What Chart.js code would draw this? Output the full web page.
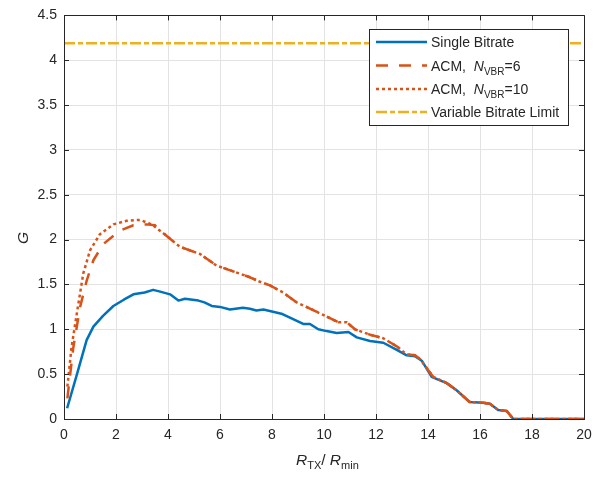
<!DOCTYPE html>
<html>
<head>
<meta charset="utf-8">
<script src="https://cdn.jsdelivr.net/npm/chart.js@4.4.1/dist/chart.umd.min.js"></script>
<style>
html,body{margin:0;padding:0;background:#fff;}
#wrap{width:616px;height:477px;position:relative;}
</style>
</head>
<body>
<div id="wrap"><canvas id="c" width="616" height="477"></canvas></div>
<script>
// ---- data ----
const singleX = [0.12,0.5,0.87,1.13,1.5,1.9,2.3,2.67,3.1,3.43,3.7,4.08,4.4,4.65,5.17,5.4,5.68,6.0,6.38,6.88,7.15,7.4,7.67,8.12,8.4,8.69,9.2,9.46,9.78,10.1,10.49,10.94,11.26,11.77,12.28,12.8,13.18,13.5,13.76,14.14,14.46,14.72,15.1,15.6,16.13,16.38,16.7,17.03,17.28,20];
const singleY = [0.12,0.5,0.88,1.03,1.15,1.26,1.33,1.39,1.41,1.44,1.42,1.39,1.32,1.34,1.32,1.30,1.26,1.25,1.22,1.24,1.23,1.21,1.22,1.19,1.17,1.13,1.06,1.06,1.0,0.98,0.96,0.97,0.91,0.87,0.85,0.77,0.71,0.70,0.65,0.47,0.43,0.40,0.32,0.19,0.18,0.17,0.10,0.09,0.0,0.0];

const acm6X = [0.13,0.36,0.62,0.87,1.13,1.51,2.15,2.67,3.18,3.5,3.95,4.46,5.23,5.87,6.77,7.15,7.54,7.92,8.43,8.95,9.4,9.97,10.55,10.87,11.19,11.77,12.28,12.8,13.18,13.5,13.69,14.2,14.72,15.1,15.6,16.13,16.38,16.7,17.03,17.28,20];
const acm6Y = [0.23,0.80,1.25,1.54,1.77,1.95,2.10,2.16,2.17,2.16,2.04,1.92,1.84,1.71,1.62,1.58,1.53,1.49,1.41,1.30,1.24,1.16,1.08,1.08,1.0,0.94,0.90,0.81,0.72,0.71,0.67,0.47,0.40,0.32,0.19,0.18,0.17,0.10,0.09,0.0,0.0];

const acm10X = [0.13,0.29,0.49,0.74,1.0,1.38,1.9,2.41,2.92,3.37,3.69,3.95,4.46,5.23,5.87,6.77,7.15,7.54,7.92,8.43,8.95,9.4,9.97,10.55,10.87,11.19,11.77,12.28,12.8,13.18,13.5,13.69,14.2,14.72,15.1,15.6,16.13,16.38,16.7,17.03,17.28,20];
const acm10Y = [0.36,0.80,1.17,1.62,1.88,2.06,2.17,2.21,2.22,2.17,2.10,2.04,1.92,1.84,1.71,1.62,1.58,1.53,1.49,1.41,1.30,1.24,1.16,1.08,1.08,1.0,0.94,0.90,0.81,0.72,0.71,0.67,0.47,0.40,0.32,0.19,0.18,0.17,0.10,0.09,0.0,0.0];

const vbrLimitX = [0,20];
const vbrLimitY = [4.19,4.19];

const xTicksStep = 2;
const yTicksStep = 0.5;

// legend labels: rich parts
const legendParts = [
  [{t:'Single Bitrate'}],
  [{t:'ACM,  '},{t:'N',i:true},{t:'VBR',sub:true},{t:'=6'}],
  [{t:'ACM,  '},{t:'N',i:true},{t:'VBR',sub:true},{t:'=10'}],
  [{t:'Variable Bitrate Limit'}]
];
const xTitleParts = [{t:'R',i:true},{t:'TX',sub:true},{t:'/ '},{t:'R',i:true},{t:'min',sub:true}];
const yTitleParts = [{t:'G',i:true}];

// ---- chart ----
const FAM = '"Liberation Sans", Arial, Helvetica, sans-serif';
const TXT = '#262626';
Chart.defaults.font.family = FAM;
Chart.defaults.font.size = 14;
Chart.defaults.color = TXT;

const pts = (xs, ys) => xs.map((x, k) => ({x, y: ys[k]}));

function partFont(p, big){ const s = p.sub ? (big ? 11 : 10) : (big ? 15.5 : 14); return (p.i ? 'italic ' : '') + s + 'px ' + FAM; }
function richWidth(ctx, parts, big){ let w=0; parts.forEach(p=>{ctx.font=partFont(p,big); w+=ctx.measureText(p.t).width;}); return w; }
function drawRich(ctx, x, y, parts, big){
  ctx.textBaseline = 'alphabetic';
  ctx.textAlign = 'left';
  let cx = x;
  parts.forEach(p=>{
    ctx.font = partFont(p, big);
    ctx.fillText(p.t, cx, y + (p.sub ? 4 : 0));
    cx += ctx.measureText(p.t).width;
  });
}

const decorPlugin = {
  id: 'decor',
  afterDraw(chart){
    const ctx = chart.ctx;
    const a = chart.chartArea;
    const xs = chart.scales.x, ys = chart.scales.y;
    ctx.save();
    // frame
    ctx.strokeStyle = TXT;
    ctx.lineWidth = 1;
    ctx.beginPath();
    ctx.rect(Math.round(a.left)+0.5, Math.round(a.top)+0.5, Math.round(a.right-a.left), Math.round(a.bottom-a.top));
    ctx.stroke();
    // inward ticks
    const tl = 5;
    ctx.beginPath();
    xs.ticks.forEach(t=>{
      const px = Math.round(xs.getPixelForValue(t.value))+0.5;
      ctx.moveTo(px, a.bottom); ctx.lineTo(px, a.bottom - tl);
      ctx.moveTo(px, a.top); ctx.lineTo(px, a.top + tl);
    });
    ys.ticks.forEach(t=>{
      const py = Math.round(ys.getPixelForValue(t.value))+0.5;
      ctx.moveTo(a.left, py); ctx.lineTo(a.left + tl, py);
      ctx.moveTo(a.right, py); ctx.lineTo(a.right - tl, py);
    });
    ctx.stroke();

    // legend
    const L = {x:369.5, y:29.5, w:199, h:96};
    ctx.fillStyle = '#fff';
    ctx.fillRect(L.x, L.y, L.w, L.h);
    ctx.strokeStyle = TXT;
    ctx.lineWidth = 1;
    ctx.strokeRect(L.x, L.y, L.w, L.h);
    const rows = [42, 65.5, 89, 112];
    chart.data.datasets.forEach((ds, k)=>{
      const ry = rows[k];
      ctx.save();
      ctx.strokeStyle = ds.borderColor;
      ctx.lineWidth = ds.borderWidth;
      ctx.setLineDash(ds.borderDash || []);
      ctx.beginPath();
      ctx.moveTo(376, ry); ctx.lineTo(427, ry);
      ctx.stroke();
      ctx.restore();
      ctx.fillStyle = TXT;
      drawRich(ctx, 431, ry + 5, legendParts[k], false);
    });

    // axis titles
    ctx.fillStyle = TXT;
    drawRich(ctx, 296, 465, xTitleParts, true);
    ctx.save();
    ctx.translate(28, 238);
    ctx.rotate(-Math.PI/2);
    const yw = richWidth(ctx, yTitleParts, true);
    drawRich(ctx, -yw/2, 0, yTitleParts, true);
    ctx.restore();
    ctx.restore();
  }
};

new Chart(document.getElementById('c'), {
  type: 'line',
  data: {
    datasets: [
      {label:'Single Bitrate', data: pts(singleX, singleY), borderColor:'#0072BD', borderWidth:2.5, order:4},
      {label:'ACM, N_VBR=6', data: pts(acm6X, acm6Y), borderColor:'#D95319', borderWidth:2.5, borderDash:[12,11], order:3},
      {label:'ACM, N_VBR=10', data: pts(acm10X, acm10Y), borderColor:'#D95319', borderWidth:2.5, borderDash:[3,3], order:2},
      {label:'Variable Bitrate Limit', data: pts(vbrLimitX, vbrLimitY), borderColor:'#EDB120', borderWidth:2.5, borderDash:[11,3,5,3], order:1}
    ]
  },
  options: {
    responsive: false,
    animation: false,
    devicePixelRatio: 1,
    layout: {padding: {left:0, right:32, top:12, bottom:0}},
    elements: {point:{radius:0}, line:{tension:0, borderCapStyle:'butt', borderJoinStyle:'round', fill:false}},
    plugins: {legend:{display:false}, tooltip:{enabled:false}},
    scales: {
      x: {
        type:'linear', min:0, max:20,
        ticks:{stepSize:xTicksStep, padding:8, color:TXT, font:{size:14}, callback:(v)=>String(v)},
        grid:{color:'#e3e3e3', drawTicks:false},
        border:{display:true, color:TXT},
        afterFit(s){ s.height = 58; }
      },
      y: {
        type:'linear', min:0, max:4.5,
        ticks:{stepSize:yTicksStep, padding:7, color:TXT, font:{size:14}, callback:(v)=>String(Math.round(v*10)/10)},
        grid:{color:'#e3e3e3', drawTicks:false},
        border:{display:true, color:TXT},
        afterFit(s){ s.width = 64; }
      }
    }
  },
  plugins: [decorPlugin]
});
</script>
</body>
</html>
